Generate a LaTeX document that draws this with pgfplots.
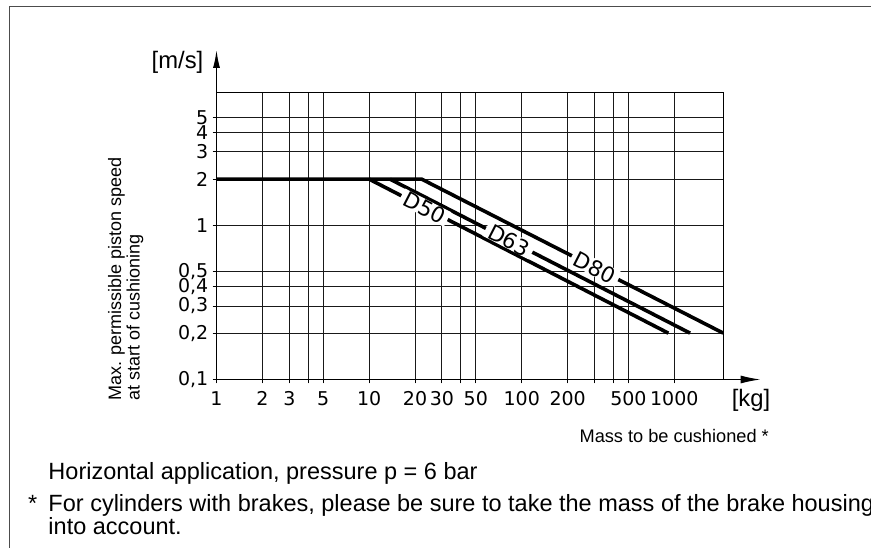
\documentclass[border=0pt]{standalone}
\usepackage{pgfplots}
\pgfplotsset{compat=1.18}
\usepackage{fontspec}
\setmainfont{Liberation Sans}
\newfontfamily\tickfont{DejaVu Sans}
\usetikzlibrary{arrows.meta}

\begin{document}
\begin{tikzpicture}[x=1pt,y=1pt]
\useasboundingbox (0,0) rectangle (871,547);
% frame of the page, cut at right and bottom
\draw[line width=1.5pt, black!70] (9.3,-5) -- (9.3,540.3) -- (880,540.3);

\begin{axis}[
  at={(216.5pt,167.5pt)}, anchor=south west,
  width=506.8pt, height=286.8pt, scale only axis,
  xmode=log, ymode=log,
  xmin=1, xmax=2094, ymin=0.1, ymax=7.28,
  xtick={1,2,3,4,5,10,20,30,40,50,100,200,300,400,500,1000},
  xticklabels={1,2,3,{},5,10,20,30,{},50,100,200,{},{},500,1000},
  ytick={0.1,0.2,0.3,0.4,0.5,1,2,3,4,5},
  yticklabels={{0,1},{0,2},{0,3},{0,4},{0,5},1,2,3,4,5},
  minor xtick={}, minor ytick={},
  grid=major, major grid style={line width=1pt, black!90},
  tick pos=left, tick align=outside, major tick length=4pt,
  tick style={line width=1pt, black},
  axis line style={line width=1.4pt},
  tick label style={font=\tickfont\fontsize{19}{22}\selectfont, inner sep=0pt},
  xticklabel style={yshift=-8pt},
  yticklabel style={xshift=-4pt},
]
% D80 with the common horizontal part
\addplot[line width=3.6pt, black] coordinates {(1,2) (22.1,2) (2094,0.2)};
% D63
\addplot[line width=3.6pt, black] coordinates {(13.7,2) (1268,0.2)};
% D50
\addplot[line width=3.6pt, black] coordinates {(10,2) (914,0.2)};

% labels breaking the lines
\addplot[draw=none] coordinates {(10,2) (914,0.2)}
  node[pos=0.185, sloped, fill=white, inner xsep=4pt, inner ysep=0pt, font=\tickfont\fontsize{21.5}{24}\selectfont] {D50};
\addplot[draw=none] coordinates {(13.7,2) (1268,0.2)}
  node[pos=0.397, sloped, fill=white, inner xsep=4pt, inner ysep=0pt, font=\tickfont\fontsize{21.5}{24}\selectfont] {D63};
\addplot[draw=none] coordinates {(22.1,2) (2094,0.2)}
  node[pos=0.575, sloped, fill=white, inner xsep=4pt, inner ysep=0pt, font=\tickfont\fontsize{21.5}{24}\selectfont] {D80};
\end{axis}

% axis arrows
\draw[line width=1.4pt, -{Latex[length=18pt,width=7pt]}] (216.5,454.3) -- (216.5,497);
\draw[line width=1.4pt, -{Latex[length=20pt,width=8pt]}] (723.3,167.5) -- (760.7,167.5);

\node[font=\fontsize{23.8}{26}\selectfont, inner sep=0pt] at (177.5,485) {[m/s]};
\node[font=\fontsize{23.8}{26}\selectfont, inner sep=0pt] at (751,147) {[kg]};
\node[anchor=east, inner sep=0pt, font=\fontsize{18.2}{20}\selectfont] at (769,111) {Mass to be cushioned *};

\node[rotate=90, anchor=base west, inner sep=0pt, font=\fontsize{18}{20}\selectfont] at (121,146) {Max. permissible piston speed};
\node[rotate=90, anchor=base west, inner sep=0pt, font=\fontsize{18}{20}\selectfont] at (139.5,146) {at start of cushioning};

\node[anchor=base west, inner sep=0pt, font=\fontsize{23.5}{26}\selectfont] at (48.3,68) {Horizontal application, pressure p = 6 bar};
\node[anchor=base west, inner sep=0pt, font=\fontsize{23.5}{26}\selectfont] at (28,36) {*};
\node[anchor=base west, inner sep=0pt, font=\fontsize{23.5}{26}\selectfont] at (48.3,36) {For cylinders with brakes, please be sure to take the mass of the brake housing};
\node[anchor=base west, inner sep=0pt, font=\fontsize{23.5}{26}\selectfont] at (48.3,13) {into account.};
\end{tikzpicture}
\end{document}
